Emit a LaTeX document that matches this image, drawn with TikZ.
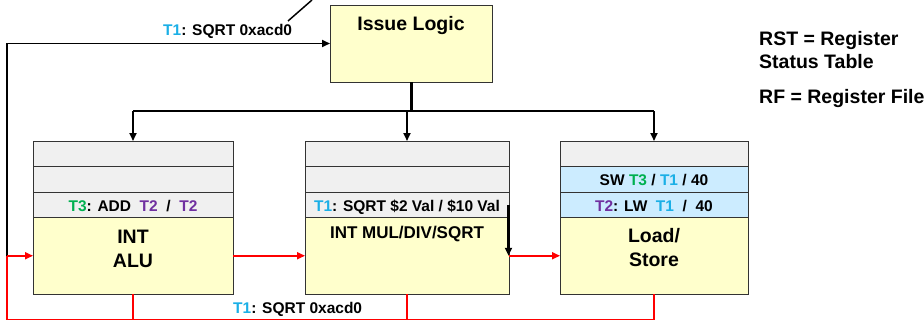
\documentclass[tikz,border=0pt]{standalone}
\usepackage{fontspec}
\setmainfont{Liberation Sans}
\usetikzlibrary{arrows.meta}

\definecolor{tone}{HTML}{1AAFE6}
\definecolor{tthree}{HTML}{00B050}
\definecolor{ttwo}{HTML}{7030A0}
\definecolor{unitfill}{HTML}{FFFFCC}
\definecolor{slotfill}{HTML}{F0F0F0}
\definecolor{ldstfill}{HTML}{CCECFF}
\definecolor{edge}{HTML}{333333}
\definecolor{bus}{HTML}{FF0000}

\newcommand\tg[2]{\textcolor{#1}{#2}}

\begin{document}
\begin{tikzpicture}[x=1pt,y=-1pt,
  box/.style={draw=edge, line width=0.9pt, inner sep=0pt, outer sep=0pt, anchor=north west},
  slot/.style={box, fill=slotfill, minimum height=25.5pt},
  ldslot/.style={box, fill=ldstfill, minimum height=25.5pt},
  unit/.style={box, fill=unitfill, minimum height=76.5pt},
  big/.style={font=\fontsize{19.5}{24}\selectfont\bfseries, inner sep=0pt, anchor=base},
  mid/.style={font=\fontsize{17}{20}\selectfont\bfseries, inner sep=0pt, anchor=base},
  small/.style={font=\fontsize{15.5}{18}\selectfont\bfseries, inner sep=0pt, anchor=base},
  wire/.style={line width=1.8pt, black},
  arr/.style={wire, -{Triangle[length=8pt,width=7pt]}},
  stem/.style={line width=3pt, black},
  redline/.style={line width=1.8pt, bus},
  redarr/.style={redline, -{Triangle[length=8pt,width=7pt]}},
]
\useasboundingbox (0,0) rectangle (924,324);

% issue logic
\node[box, fill=unitfill, minimum width=162pt, minimum height=77pt] (issue) at (330,5) {};
\node[big] (issuet) at (411,30) {Issue Logic};

% legend
\node[big, anchor=base west] (rst1) at (759,45) {RST = Register};
\node[big, anchor=base west] (rst2) at (759,68) {Status Table};
\node[big, anchor=base west] (rf) at (759,103) {RF = Register File};

% INT ALU
\node[slot, minimum width=200pt] (alu1) at (33,141) {};
\node[slot, minimum width=200pt] (alu2) at (33,166.5) {};
\node[slot, minimum width=200pt] (alu3) at (33,192) {};
\node[unit, minimum width=200pt] (alu) at (33,217.5) {};
\node[small] (alu3t) at (133,211.5) {\tg{tthree}{T3}: ADD\ \ \tg{ttwo}{T2}\ \ /\ \ \tg{ttwo}{T2}};
\node[big] (alut1) at (133,243) {INT};
\node[big] (alut2) at (133,267) {ALU};

% INT MUL/DIV/SQRT
\node[slot, minimum width=204pt] (mul1) at (305,141) {};
\node[slot, minimum width=204pt] (mul2) at (305,166.5) {};
\node[slot, minimum width=204pt] (mul3) at (305,192) {};
\node[unit, minimum width=204pt] (mul) at (305,217.5) {};
\node[small] (mul3t) at (407,211.5) {\tg{tone}{T1}: SQRT \$2 Val / \$10 Val};
\node[mid] (mult) at (407,238) {INT MUL/DIV/SQRT};

% Load/Store
\node[slot, minimum width=188pt] (ls1) at (560,141) {};
\node[ldslot, minimum width=188pt] (ls2) at (560,166.5) {};
\node[ldslot, minimum width=188pt] (ls3) at (560,192) {};
\node[unit, minimum width=188pt] (ls) at (560,217.5) {};
\node[small] (ls2t) at (654,185) {SW \tg{tthree}{T3} / \tg{tone}{T1} / 40};
\node[small] (ls3t) at (654,211.5) {\tg{ttwo}{T2}: LW\ \ \tg{tone}{T1}\ \ /\ \ 40};
\node[big] (lst1) at (654,242) {Load/};
\node[big] (lst2) at (654,266) {Store};

% tag labels on the result bus
\node[small, anchor=base west] (toptag) at (163,35) {\tg{tone}{T1}: SQRT 0xacd0};
\node[small, anchor=base west] (bottag) at (233,313) {\tg{tone}{T1}: SQRT 0xacd0};

% dispatch from issue logic
\coordinate (split) at (411,111);
\draw[stem] (issue.south) -- (split);
\draw[wire] (alu1.north |- split) -- (ls1.north |- split);
\draw[arr] (alu1.north |- split) -- (alu1.north);
\draw[arr] (mul1.north |- split) -- (mul1.north);
\draw[arr] (ls1.north |- split) -- (ls1.north);

% pointer line to the top label
\coordinate (dg1) at (288,21);
\coordinate (dg2) at (312,0);
\draw[line width=1.5pt] (dg1) -- (dg2);

% feedback into issue logic
\coordinate (lp) at (7,255.75);
\coordinate (bl) at (7,319.5);
\draw[arr] (lp) |- (issue.west);

% result bus
\draw[redarr] (lp) -- (alu.west);
\draw[redline] (lp) -- (bl) -| (ls.south);
\draw[redline] (alu.south) -- (alu.south |- bl);
\draw[redline] (mul.south) -- (mul.south |- bl);
\draw[redarr] (alu.east) -- (mul.west);
\draw[redarr] (mul.east) -- (ls.west);

% issue from the reservation slot into the unit
\draw[arr, line width=2.4pt] ([xshift=-0.5pt]mul3.east) -- ([xshift=-0.5pt]mul.east);
\end{tikzpicture}
\end{document}
